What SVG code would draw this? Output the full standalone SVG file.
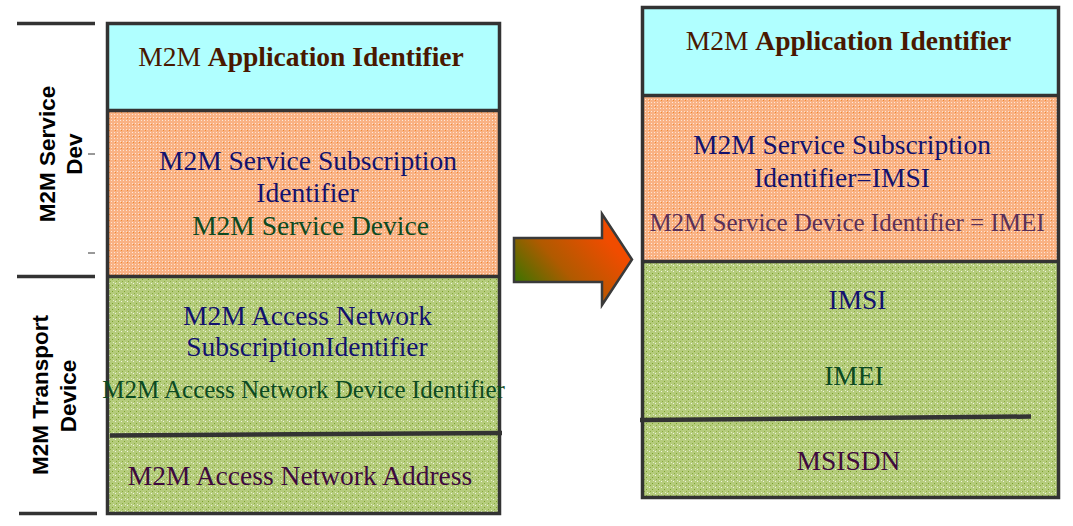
<svg xmlns="http://www.w3.org/2000/svg" width="1073" height="526" viewBox="0 0 1073 526">
<style>
.box{stroke:#333;stroke-width:3.5;fill:none}
.t{font-family:"Liberation Serif","Times New Roman",serif;font-size:27.5px;text-anchor:middle}
.s{font-size:25px}
.b{font-weight:bold}
.side{font-family:"Liberation Sans",Arial,sans-serif;font-weight:bold;font-size:22.5px;text-anchor:middle;fill:#000}
.app{fill:#4a1800}
.navy{fill:#12126e}
.dg{fill:#0c4a22}
.pur{fill:#3e0a3e}
.mar{fill:#5a3058}
.rule{stroke:#333;stroke-width:3.5}
.div{stroke:#333;stroke-width:4.5}
</style>
<defs>
<pattern id="po" width="6" height="6" patternUnits="userSpaceOnUse">
<rect width="6" height="6" fill="#f9b284"/>
<rect x="0" y="0" width="1" height="1" fill="#fff" opacity="0.7"/>
<rect x="3" y="3" width="1" height="1" fill="#fff" opacity="0.7"/>
<rect x="0" y="3" width="1" height="1" fill="#fde0cc"/>
<rect x="3" y="0" width="1" height="1" fill="#fde0cc"/>
<rect x="1" y="4" width="1" height="1" fill="#f08a30"/>
</pattern>
<pattern id="pg" width="6" height="6" patternUnits="userSpaceOnUse">
<rect width="6" height="6" fill="#b5cc7c"/>
<rect x="1" y="1" width="1" height="1" fill="#fff" opacity="0.8"/>
<rect x="4" y="3" width="1" height="1" fill="#7aa02a"/>
<rect x="2" y="5" width="1" height="1" fill="#8aac40"/>
<rect x="5" y="0" width="1" height="1" fill="#e4eec8"/>
</pattern>
<linearGradient id="ag" x1="0" y1="0.85" x2="0.8" y2="0.3">
<stop offset="0" stop-color="#2a7800"/>
<stop offset="0.5" stop-color="#b05a00"/>
<stop offset="1" stop-color="#f04c00"/>
</linearGradient>
</defs>

<g id="side-labels">
<line class="rule" x1="17" y1="23.5" x2="95" y2="23.5"/>
<line class="rule" x1="17" y1="276.5" x2="95" y2="276.5"/>
<line class="rule" x1="19" y1="513.5" x2="97" y2="513.5"/>
<line stroke="#333" stroke-width="1" x1="88" y1="154" x2="95" y2="154"/>
<line stroke="#333" stroke-width="1" x1="88" y1="253" x2="95" y2="253"/>
<text class="side" transform="translate(55,154) rotate(-90)">M2M Service</text>
<text class="side" transform="translate(82,154) rotate(-90)">Dev</text>
<text class="side" transform="translate(48,395) rotate(-90)">M2M Transport</text>
<text class="side" transform="translate(76,396) rotate(-90)">Device</text>
</g>

<g id="left-stack">
<rect x="107.5" y="23.5" width="392" height="87" fill="#b0ffff"/>
<rect x="107.5" y="110.5" width="392" height="166" fill="url(#po)"/>
<rect x="107.5" y="276.5" width="392" height="237" fill="url(#pg)"/>
<line class="rule" x1="107.5" y1="110.5" x2="499.5" y2="110.5"/>
<line class="rule" x1="107.5" y1="276.5" x2="499.5" y2="276.5"/>
<rect class="box" x="107.5" y="23.5" width="392" height="490"/>
<line class="div" x1="110" y1="435.5" x2="502" y2="433"/>
<text class="t app" x="301" y="66">M2M <tspan class="b">Application Identifier</tspan></text>
<text class="t navy" x="308" y="170">M2M Service Subscription</text>
<text class="t navy" x="307.5" y="202">Identifier</text>
<text class="t dg" x="310.5" y="235">M2M Service Device</text>
<text class="t navy" x="307.5" y="325">M2M Access Network</text>
<text class="t navy" x="307" y="356">SubscriptionIdentifier</text>
<text class="t s dg" x="303.5" y="398">M2M Access Network Device Identifier</text>
<text class="t pur" x="300" y="485">M2M Access Network Address</text>
</g>

<g id="arrow">
<path d="M514,238 H602 V214 L632,259.5 L602,305 V282 H514 Z" fill="url(#ag)" stroke="#3a3a3a" stroke-width="2.5" stroke-linejoin="miter"/>
</g>

<g id="right-stack">
<rect x="642.5" y="7.5" width="416" height="88" fill="#b0ffff"/>
<rect x="642.5" y="95.5" width="416" height="166" fill="url(#po)"/>
<rect x="642.5" y="261.5" width="416" height="236" fill="url(#pg)"/>
<line class="rule" x1="642.5" y1="95.5" x2="1058.5" y2="95.5"/>
<line class="rule" x1="642.5" y1="261.5" x2="1058.5" y2="261.5"/>
<rect class="box" x="642.5" y="7.5" width="416" height="490"/>
<line class="div" x1="640" y1="420" x2="1031" y2="416.5"/>
<text class="t app" x="848.5" y="50">M2M <tspan class="b">Application Identifier</tspan></text>
<text class="t navy" x="842" y="154">M2M Service Subscription</text>
<text class="t navy" x="842" y="187">Identifier=IMSI</text>
<text class="t s mar" x="847" y="231">M2M Service Device Identifier = IMEI</text>
<text class="t navy" x="857.5" y="309">IMSI</text>
<text class="t dg" x="854" y="385">IMEI</text>
<text class="t pur" x="848.5" y="470">MSISDN</text>
</g>
</svg>
